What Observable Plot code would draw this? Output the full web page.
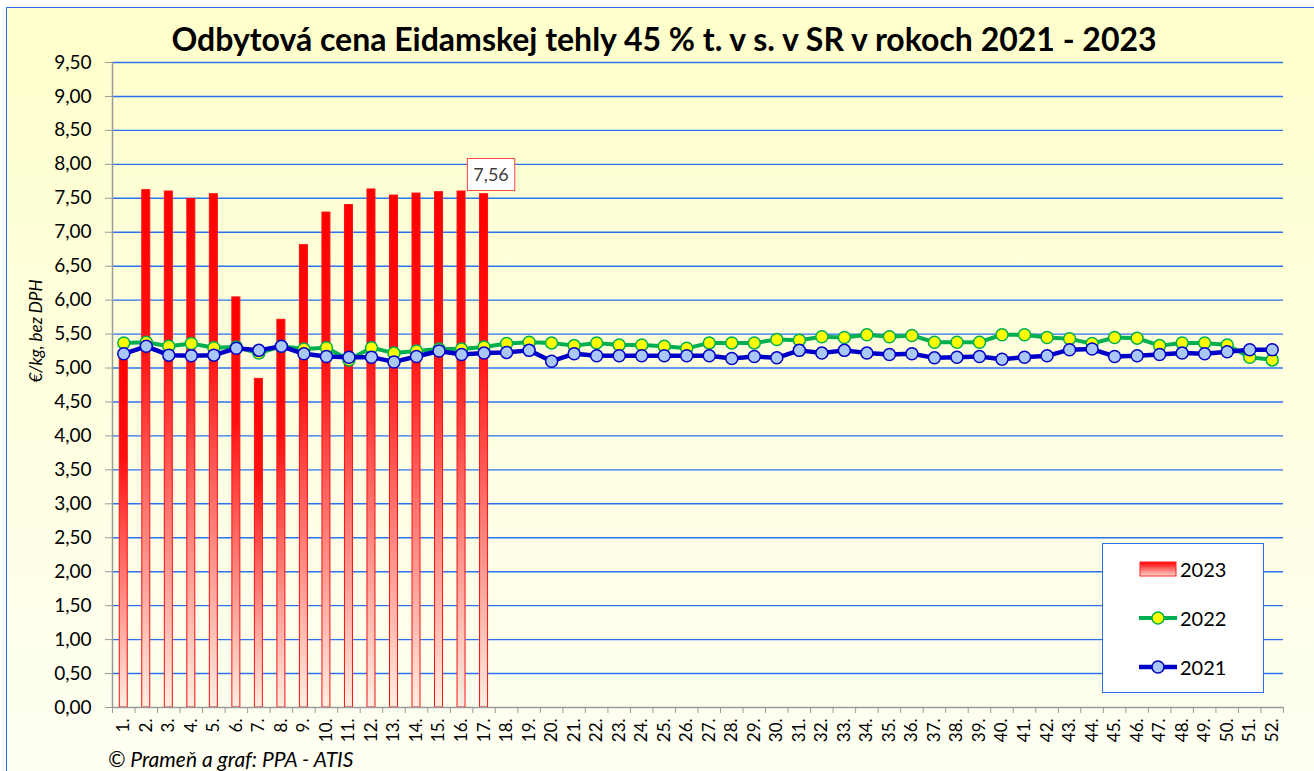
<!DOCTYPE html>
<html>
<head>
<meta charset="utf-8">
<script src="https://cdn.jsdelivr.net/npm/d3@7"></script>
<script src="https://cdn.jsdelivr.net/npm/@observablehq/plot@0.6"></script>
<style>
html,body{margin:0;padding:0;width:1314px;height:771px;overflow:hidden;background:#fff;font-family:Lato,"Open Sans",sans-serif;}
#wrap{position:relative;width:1314px;height:771px;}
#frame{position:absolute;left:6px;top:7px;width:1400px;height:900px;border-left:1.5px solid #2f6fe6;border-top:1.5px solid #2f6fe6;background:linear-gradient(#ffffcc 0%, #fffff8 95%);}
#chart{position:absolute;left:0;top:0;}
#title{position:absolute;left:7px;width:1314px;top:19px;text-align:center;font-weight:bold;font-size:32px;line-height:40px;color:#000;white-space:nowrap;}
#ylabel{position:absolute;left:35px;top:331px;transform:translate(-50%,-50%) rotate(-90deg);font-style:italic;font-size:17px;white-space:nowrap;color:#000;}
#caption{position:absolute;left:108px;top:747px;font-style:italic;font-size:21px;line-height:24px;white-space:nowrap;color:#000;}
#legend{position:absolute;left:1102px;top:543px;width:162px;height:150px;box-sizing:border-box;background:#fff;border:1.5px solid #2f6fe6;}
#legend .item{position:absolute;left:0;width:160px;height:30px;}
#legend .item svg{position:absolute;left:33px;top:0;}
#legend .item span{position:absolute;left:77px;top:3px;font-size:20px;line-height:24px;color:#000;}
</style>
</head>
<body>
<div id="wrap">
  <div id="frame"></div>
  <div id="chart"></div>
  <div id="title">Odbytová cena Eidamskej tehly 45 % t. v s. v SR v rokoch 2021 - 2023</div>
  <div id="ylabel">€/kg, bez DPH</div>
  <div id="caption">© Prameň a graf: PPA - ATIS</div>
  <div id="legend">
    <div class="item" style="top:10px">
      <svg width="44" height="30"><defs><linearGradient id="legGrad" x1="0" y1="0" x2="0" y2="1"><stop offset="0%" stop-color="#ff0000"/><stop offset="100%" stop-color="#ffd8d0"/></linearGradient></defs>
        <rect x="4" y="8" width="36" height="14" fill="url(#legGrad)" stroke="#ff2020" stroke-width="1"/></svg>
      <span>2023</span>
    </div>
    <div class="item" style="top:59px">
      <svg width="44" height="30"><line x1="3" y1="15" x2="41" y2="15" stroke="#00b050" stroke-width="4"/><circle cx="22" cy="15" r="6" fill="#ffff00" stroke="#00b050" stroke-width="1.5"/></svg>
      <span>2022</span>
    </div>
    <div class="item" style="top:108px">
      <svg width="44" height="30"><line x1="3" y1="15" x2="41" y2="15" stroke="#0000c8" stroke-width="4.5"/><circle cx="22" cy="15" r="6" fill="#a9c8f8" stroke="#0000c8" stroke-width="1.5"/></svg>
      <span>2021</span>
    </div>
  </div>
</div>
<script>
// ---- data ----
const weeks = d3.range(1, 53).map(d => d + ".");
const values2023 = [5.22, 7.62, 7.60, 7.49, 7.56, 6.04, 4.84, 5.71, 6.81, 7.29, 7.40, 7.63, 7.54, 7.57, 7.59, 7.60, 7.56];
const values2022 = [5.37, 5.38, 5.32, 5.36, 5.30, 5.31, 5.22, 5.32, 5.28, 5.30, 5.12, 5.30, 5.22, 5.25, 5.28, 5.28, 5.31,
  5.36, 5.38, 5.37, 5.33, 5.37, 5.34, 5.34, 5.32, 5.29, 5.37, 5.37, 5.37, 5.42, 5.41, 5.46, 5.45, 5.49, 5.46,
  5.48, 5.38, 5.38, 5.38, 5.49, 5.49, 5.45, 5.43, 5.36, 5.45, 5.44, 5.33, 5.37, 5.37, 5.34, 5.16, 5.12];
const values2021 = [5.21, 5.32, 5.19, 5.18, 5.19, 5.29, 5.26, 5.32, 5.21, 5.17, 5.16, 5.16, 5.09, 5.17, 5.25, 5.20, 5.22,
  5.23, 5.26, 5.10, 5.21, 5.18, 5.18, 5.18, 5.18, 5.18, 5.18, 5.14, 5.17, 5.15, 5.26, 5.22, 5.26, 5.22, 5.20,
  5.21, 5.15, 5.16, 5.17, 5.13, 5.16, 5.18, 5.27, 5.28, 5.17, 5.18, 5.20, 5.22, 5.21, 5.24, 5.27, 5.27];
const yTicks = d3.range(0, 19.5).map(i => i * 0.5);
const labelWeek = "17.";
const labelValue = 7.56;

const d2023 = values2023.map((v, i) => ({week: weeks[i], value: v}));
const d2022 = values2022.map((v, i) => ({week: weeks[i], value: v}));
const d2021 = values2021.map((v, i) => ({week: weeks[i], value: v}));
const fmt = d => d.toFixed(2).replace(".", ",");

const W = 1314, H = 771, mL = 112, mR = 31, mT = 62, mB = 64;
const bw = (W - mL - mR) / weeks.length;
const barW = 8;
const inset = (bw - barW) / 2;

const chart = Plot.plot({
  width: W, height: H,
  marginLeft: mL, marginRight: mR, marginTop: mT, marginBottom: mB,
  style: {background: "transparent", fontFamily: "Lato, 'Open Sans', sans-serif", color: "#000", overflow: "visible"},
  x: {type: "band", domain: weeks, padding: 0, round: false, label: null},
  y: {domain: [0, 9.5], label: null},
  marks: [
    Plot.ruleY(yTicks.filter(d => d > 0), {stroke: "#2a72ee", strokeWidth: 1.4}),
    Plot.barY(d2023, {x: "week", y: "value", fill: "url(#barGrad)", stroke: "#ff1010", strokeWidth: 1, insetLeft: inset, insetRight: inset}),
    Plot.ruleY([0], {stroke: "#9a9a9a", strokeWidth: 1.5}),
    Plot.ruleX([weeks[0]], {dx: -bw / 2, y1: 0, y2: 9.5, stroke: "#9a9a9a", strokeWidth: 1.5}),
    Plot.line(d2022, {x: "week", y: "value", stroke: "#00b050", strokeWidth: 4}),
    Plot.dot(d2022, {x: "week", y: "value", r: 6, fill: "#ffff00", stroke: "#00b050", strokeWidth: 1.5}),
    Plot.line(d2021, {x: "week", y: "value", stroke: "#0000c8", strokeWidth: 4.5}),
    Plot.dot(d2021, {x: "week", y: "value", r: 6, fill: "#a9c8f8", stroke: "#0000c8", strokeWidth: 1.5}),
    Plot.text([{week: labelWeek, value: labelValue}], {x: "week", y: "value", text: d => fmt(d.value), dx: 7, dy: -18.5, fill: "#404040", fontSize: 18}),
    Plot.axisY({ticks: yTicks, tickFormat: fmt, tickSize: 7, tickPadding: 14, stroke: "#9a9a9a", fontSize: 19, fill: "#000", label: null}),
    Plot.axisX({tickRotate: -90, tickSize: 0, tickPadding: 11, fontSize: 17, fill: "#000", label: null}),
    Plot.axisX({tickSize: 6, tickFormat: () => "", dx: -bw / 2, stroke: "#9a9a9a", label: null}),
    Plot.axisX({ticks: [weeks[weeks.length - 1]], tickSize: 6, tickFormat: () => "", dx: bw / 2, stroke: "#9a9a9a", label: null})
  ]
});

// bar gradient
const svg = d3.select(chart);
const defs = svg.insert("defs", ":first-child");
const g = defs.append("linearGradient").attr("id", "barGrad").attr("x1", 0).attr("y1", 0).attr("x2", 0).attr("y2", 1);
g.append("stop").attr("offset", "0%").attr("stop-color", "#ff0000");
g.append("stop").attr("offset", "30%").attr("stop-color", "#ff1010");
g.append("stop").attr("offset", "100%").attr("stop-color", "#fff0e2");

document.getElementById("chart").appendChild(chart);

// box around value label
const labelText = fmt(labelValue);
const t = Array.from(chart.querySelectorAll("text")).find(el => el.textContent === labelText && !el.closest("[aria-label='y-axis tick label']"));
if (t) {
  const b = t.getBBox();
  const padX = 6, padY = 5;
  d3.select(t.parentNode).insert("rect", () => t)
    .attr("x", b.x - padX).attr("y", b.y - padY)
    .attr("width", b.width + 2 * padX).attr("height", b.height + 2 * padY)
    .attr("transform", t.getAttribute("transform"))
    .attr("fill", "#fff").attr("stroke", "#ff4040").attr("stroke-width", 1);
}
</script>
</body>
</html>
